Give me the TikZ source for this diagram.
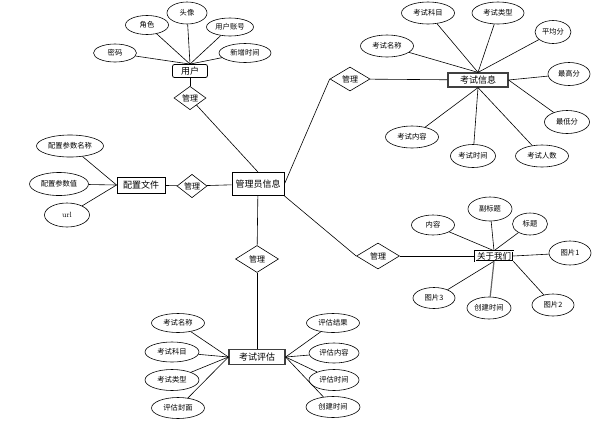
\documentclass[tikz,border=0pt]{standalone}
\usepackage{fontspec}
\newfontfamily\cjk{Noto Sans CJK SC}
\usetikzlibrary{shapes.geometric}
\tikzset{
  attr/.style={ellipse,draw,line width=0.6pt,inner sep=0pt,font=\cjk\fontsize{7.3}{8}\selectfont},
  ent/.style={rectangle,draw,line width=0.9pt,inner sep=0pt,font=\cjk\fontsize{9}{10}\selectfont},
  rel/.style={diamond,draw,line width=0.6pt,inner sep=0pt,font=\cjk\fontsize{8}{9}\selectfont},
  conn/.style={line width=0.6pt}}
\begin{document}
\begin{tikzpicture}[x=1pt,y=-1pt]
\useasboundingbox (0,0) rectangle (611,424);
% user
\node[ent,minimum width=35pt,minimum height=13pt,rounded corners=2pt,line width=0.8pt] (u) at (190,71) {用户};
\node[attr,minimum width=40pt,minimum height=22pt] (u1) at (187,13) {头像};
\node[attr,minimum width=43pt,minimum height=19pt] (u2) at (147,25) {角色};
\node[attr,minimum width=47pt,minimum height=18pt] (u3) at (230,27) {用户账号};
\node[attr,minimum width=43pt,minimum height=18pt] (u4) at (115,53) {密码};
\node[attr,minimum width=52pt,minimum height=19pt] (u5) at (245,53) {新增时间};
\node[rel,minimum width=32pt,minimum height=22pt] (r1) at (190,98) {管理};
% admin
\node[ent,minimum width=52pt,minimum height=23pt] (a) at (258,184) {管理员信息};
% exam info
\node[rel,minimum width=40pt,minimum height=24pt] (r2) at (350,79) {管理};
\node[ent,minimum width=60pt,minimum height=14pt,draw=black!75,line width=1.2pt] (e) at (478,80) {考试信息};
\node[attr,minimum width=53pt,minimum height=22pt] (e1) at (428,13) {考试科目};
\node[attr,minimum width=52pt,minimum height=22pt] (e2) at (498,13) {考试类型};
\node[attr,minimum width=36pt,minimum height=23pt] (e3) at (553,32) {平均分};
\node[attr,minimum width=53pt,minimum height=22pt] (e4) at (387,46) {考试名称};
\node[attr,minimum width=42pt,minimum height=23pt] (e5) at (569,74) {最高分};
\node[attr,minimum width=45pt,minimum height=23pt] (e6) at (567,122) {最低分};
\node[attr,minimum width=53pt,minimum height=22pt] (e7) at (412,137) {考试内容};
\node[attr,minimum width=45pt,minimum height=23pt] (e8) at (473,156) {考试时间};
\node[attr,minimum width=53pt,minimum height=22pt] (e9) at (542,156) {考试人数};
% config
\node[ent,minimum width=48pt,minimum height=16pt] (c) at (141,185) {配置文件};
\node[attr,minimum width=67pt,minimum height=22pt] (c1) at (70,146) {配置参数名称};
\node[attr,minimum width=59pt,minimum height=23pt] (c2) at (59,184) {配置参数值};
\node[attr,minimum width=45pt,minimum height=24pt,font=\fontsize{7.5}{8}\selectfont] (c3) at (67,215) {url};
\node[rel,minimum width=30pt,minimum height=21pt] (r3) at (192,186) {管理};
% about us
\node[rel,minimum width=43pt,minimum height=26pt] (r4) at (378,256) {管理};
\node[ent,minimum width=38pt,minimum height=10pt,double,double distance=0.8pt,line width=0.5pt,font=\cjk\fontsize{8.5}{9}\selectfont] (k) at (494,256) {关于我们};
\node[attr,minimum width=43pt,minimum height=20pt] (k1) at (433,225) {内容};
\node[attr,minimum width=44pt,minimum height=24pt] (k2) at (490,209) {副标题};
\node[attr,minimum width=35pt,minimum height=22pt] (k3) at (530,224) {标题};
\node[attr,minimum width=42pt,minimum height=24pt] (k4) at (570,253) {图片1};
\node[attr,minimum width=42pt,minimum height=22pt] (k5) at (553,305) {图片2};
\node[attr,minimum width=42pt,minimum height=21pt] (k6) at (434,298) {图片3};
\node[attr,minimum width=44pt,minimum height=22pt] (k7) at (489,308) {创建时间};
% evaluation
\node[rel,minimum width=43pt,minimum height=27pt] (r5) at (257,259) {管理};
\node[ent,minimum width=56pt,minimum height=15pt,draw=black!75,line width=1.2pt] (v) at (257,357) {考试评估};
\node[attr,minimum width=53pt,minimum height=19pt] (v1) at (178,323) {考试名称};
\node[attr,minimum width=54pt,minimum height=20pt] (v2) at (172,352) {考试科目};
\node[attr,minimum width=54pt,minimum height=21pt] (v3) at (172,380) {考试类型};
\node[attr,minimum width=53pt,minimum height=21pt] (v4) at (178,408) {评估封面};
\node[attr,minimum width=53pt,minimum height=19pt] (v5) at (333,323) {评估结果};
\node[attr,minimum width=50pt,minimum height=20pt] (v6) at (334,353) {评估内容};
\node[attr,minimum width=50pt,minimum height=21pt] (v7) at (334,380) {评估时间};
\node[attr,minimum width=54pt,minimum height=21pt] (v8) at (333,407) {创建时间};
% connectors
\foreach \n in {u1,u2,u3,u4,u5} \draw[conn] (\n) -- (u.north);
\draw[conn] (u) -- (r1);
\draw[conn] (r1) -- (a.north);
\draw[conn] (a.east) -- (r2.west);
\draw[conn] (r2) -- (e);
\foreach \n in {e1,e2,e3,e4} \draw[conn] (\n) -- (e.north);
\foreach \n in {e5,e6} \draw[conn] (\n) -- (e.east);
\foreach \n in {e7,e8,e9} \draw[conn] (\n) -- (e.south);
\foreach \n in {c1,c2,c3} \draw[conn] (\n) -- (c.west);
\draw[conn] (c) -- (r3);
\draw[conn] (r3) -- (a);
\draw[conn] (a.south east) -- (r4.west);
\draw[conn] (r4) -- (k);
\foreach \n in {k1,k2,k3} \draw[conn] (\n) -- (k.north);
\draw[conn] (k4) -- (k.east);
\draw[conn] (k5) -- (k.south east);
\draw[conn] (k6) -- (k.south);
\draw[conn,line width=1.2pt,black!60] (k7) -- (k.south);
\draw[conn] (a) -- (r5);
\draw[conn] (r5) -- (v);
\foreach \n in {v1,v2,v3,v4} \draw[conn] (\n) -- (v.west);
\foreach \n in {v5,v6,v7,v8} \draw[conn] (\n) -- (v.east);
\end{tikzpicture}
\end{document}
